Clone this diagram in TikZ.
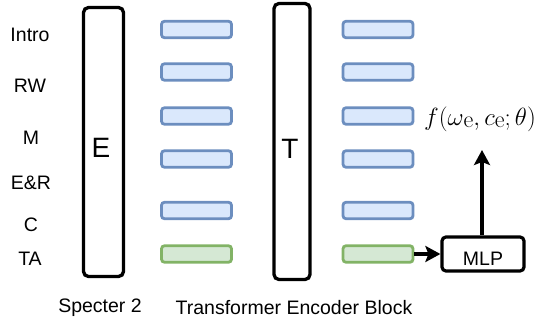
\documentclass[tikz,border=0pt]{standalone}
\usepackage{fontspec}
\setmainfont{Liberation Sans}
\newfontfamily\lmrfont{Latin Modern Roman}
\usetikzlibrary{arrows.meta}
\definecolor{bfill}{HTML}{DAE8FC}
\definecolor{bdraw}{HTML}{6C8EBF}
\definecolor{gfill}{HTML}{D5E8D4}
\definecolor{gdraw}{HTML}{82B366}
\newcommand{\sube}{\hbox{\lmrfont e}}
\begin{document}
\begin{tikzpicture}[x=1pt,y=-1pt,
  bigbox/.style={draw=black,line width=3.3pt,rounded corners=5pt,inner sep=0pt},
  bluebar/.style={draw=bdraw,fill=bfill,line width=2.8pt,rounded corners=3pt,minimum width=70pt,minimum height=16.5pt,inner sep=0pt},
  greenbar/.style={draw=gdraw,fill=gfill,line width=2.8pt,rounded corners=3pt,minimum width=70pt,minimum height=16.5pt,inner sep=0pt},
  lbl/.style={font=\fontsize{19.5}{22}\selectfont,inner sep=0pt},
  arr/.style={line width=3.2pt,-{Stealth[length=15pt,width=16pt,inset=3pt]}}]
\useasboundingbox (0,0) rectangle (541,324);
% big boxes
\node[bigbox,minimum width=40pt,minimum height=269pt] (E) at (103.5,142) {};
\node[font=\fontsize{28}{32}\selectfont] (Elbl) at (101,148) {E};
\node[bigbox,minimum width=36pt,minimum height=276pt] (T) at (292,141.5) {};
\node[font=\fontsize{28}{32}\selectfont] (Tlbl) at (290,149) {T};
% left labels
\node[lbl] (l1) at (30,35) {Intro};
\node[lbl] (l2) at (30,86) {RW};
\node[lbl] (l3) at (31,138) {M};
\node[lbl] (l4) at (31,183) {E\&R};
\node[lbl] (l5) at (31,225) {C};
\node[lbl] (l6) at (30,259) {TA};
% left bars
\node[bluebar] (a1) at (196.5,29.5) {};
\node[bluebar] (a2) at (196.5,72) {};
\node[bluebar] (a3) at (196.5,116) {};
\node[bluebar] (a4) at (196.5,159) {};
\node[bluebar] (a5) at (196.5,210.5) {};
\node[greenbar] (a6) at (196.5,254) {};
% right bars
\node[bluebar] (b1) at (378,29.5) {};
\node[bluebar] (b2) at (378,72) {};
\node[bluebar] (b3) at (378,116) {};
\node[bluebar] (b4) at (378,159) {};
\node[bluebar] (b5) at (378,210.5) {};
\node[greenbar] (b6) at (378,254) {};
% MLP
\node[draw=black,line width=3.2pt,rounded corners=4pt,minimum width=82pt,minimum height=34pt,inner sep=0pt] (mlp) at (483,254) {};
\node[lbl] (mlplbl) at (483,259) {MLP};
\node[font=\fontsize{24}{28}\selectfont,inner sep=0pt] (f) at (480,119) {$f(\omega\lower2pt\sube, c\lower2pt\sube;\theta)$};
\coordinate (top) at (482,150);
\draw[arr] (b6.east) -- (mlp.west);
\draw[arr] (mlp.north -| top) -- (top);
% bottom labels
\node[lbl] (s2) at (100,308) {Specter 2};
\node[lbl] (teb) at (294,308) {Transformer Encoder Block};
\end{tikzpicture}
\end{document}
